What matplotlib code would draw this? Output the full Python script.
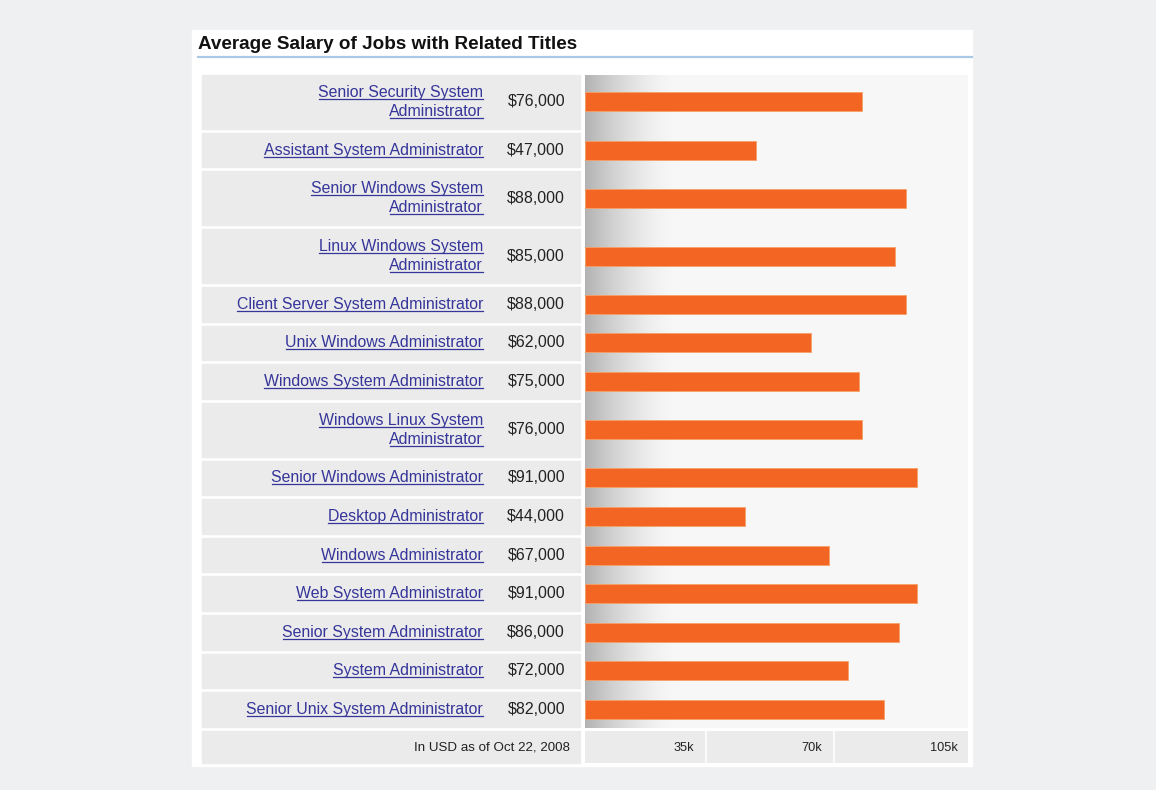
import matplotlib
matplotlib.use('Agg')
import matplotlib.pyplot as plt
from matplotlib.patches import Rectangle
import numpy as np

# dados do grafico
titulo = 'Average Salary of Jobs with Related Titles'
cargos = ['Senior Security System\nAdministrator', 'Assistant System Administrator',
          'Senior Windows System\nAdministrator', 'Linux Windows System\nAdministrator',
          'Client Server System Administrator', 'Unix Windows Administrator',
          'Windows System Administrator', 'Windows Linux System\nAdministrator',
          'Senior Windows Administrator', 'Desktop Administrator', 'Windows Administrator',
          'Web System Administrator', 'Senior System Administrator', 'System Administrator',
          'Senior Unix System Administrator']
salarios = [76000, 47000, 88000, 85000, 88000, 62000, 75000, 76000,
            91000, 44000, 67000, 91000, 86000, 72000, 82000]
ticks = [35000, 70000, 105000]
tick_labels = ['35k', '70k', '105k']
nota = 'In USD as of Oct 22, 2008'

W, H = 1156, 790
fonte = 'Liberation Sans'
azul = '#35359a'
laranja = '#f26522'

fig = plt.figure(figsize=(W / 100, H / 100), dpi=100, facecolor='#eff0f2')


def ret_fig(x0, y0, x1, y1):
    return [x0 / W, 1 - y1 / H, (x1 - x0) / W, (y1 - y0) / H]


# eixo de fundo em pixels
bg = fig.add_axes([0, 0, 1, 1])
bg.set_xlim(0, W)
bg.set_ylim(H, 0)
bg.axis('off')
bg.add_patch(Rectangle((192, 30), 780, 736, color='white'))
bg.text(198, 49, titulo, ha='left', va='baseline', fontsize=13.6,
        fontweight='bold', family=fonte, color='#111111')
bg.plot([198, 972], [57, 57], color='#a9c9e6', lw=1.6)

# alturas das linhas (linhas com 2 linhas de texto sao mais altas)
alturas = np.array([57.8 if '\n' in c else 38.6 for c in cargos])
topos = 75 + np.concatenate([[0], np.cumsum(alturas)[:-1]])
centros = topos + (alturas - 4) / 2
y_fim = 75 + alturas.sum() - 3

renderer = fig.canvas.get_renderer()


def texto_link(x, y, s):
    t = bg.text(x, y, s, ha='right', va='baseline', fontsize=11.4,
                family=fonte, color=azul)
    w = t.get_window_extent(renderer).width
    bg.plot([x - w + 0.5, x - 0.5], [y + 2, y + 2], color=azul, lw=0.9)


for cargo, sal, topo, alt, c in zip(cargos, salarios, topos, alturas, centros):
    bg.add_patch(Rectangle((202, topo), 378, alt - 4, color='#ebebeb'))
    linhas = cargo.split('\n')
    if len(linhas) == 1:
        texto_link(483, c + 4.5, linhas[0])
    else:
        texto_link(483, c - 5, linhas[0])
        texto_link(483, c + 14, linhas[1])
    bg.text(565, c + 4.5, '${:,}'.format(sal), ha='right', va='baseline',
            fontsize=11.5, family=fonte, color='#222222')

# linha de baixo com a nota
bg.add_patch(Rectangle((202, 731), 378, 32, color='#ebebeb'))
bg.text(570, 751, nota, ha='right', va='baseline', fontsize=9.6,
        family=fonte, color='#222222')

# eixo das barras
ax = fig.add_axes(ret_fig(585, 75, 968, y_fim))
xmax = 105000
ax.add_patch(Rectangle((0, 75), xmax, y_fim - 75, color='#f7f7f7', zorder=0))
s = np.linspace(0, 1, 200)
tom = 0.97 - 0.27 * (1 - s) ** 1.6
grad = np.dstack([tom, tom, tom])
ax.imshow(grad, extent=[0, 25000, y_fim, 75], aspect='auto', zorder=1)
ax.barh(centros, salarios, height=19, color=laranja, edgecolor='#f6a06a',
        linewidth=0.6, zorder=2)
ax.set_xlim(0, xmax)
ax.set_ylim(y_fim, 75)
ax.axis('off')

# eixo dos ticks embaixo
axb = fig.add_axes(ret_fig(585, 731, 968, 763))
axb.set_xlim(0, xmax)
axb.set_ylim(0, 1)
axb.axis('off')
esq = 0
for t, lab in zip(ticks, tick_labels):
    dir_ = t if t == xmax else t - 2300
    axb.add_patch(Rectangle((esq, 0), dir_ - esq, 1, color='#ebebeb'))
    axb.text(dir_ - 2750, 0.38, lab, ha='right', va='baseline', fontsize=9.2,
             family=fonte, color='#222222')
    esq = dir_ + 800

fig.savefig('out.png', dpi=100, facecolor=fig.get_facecolor())
